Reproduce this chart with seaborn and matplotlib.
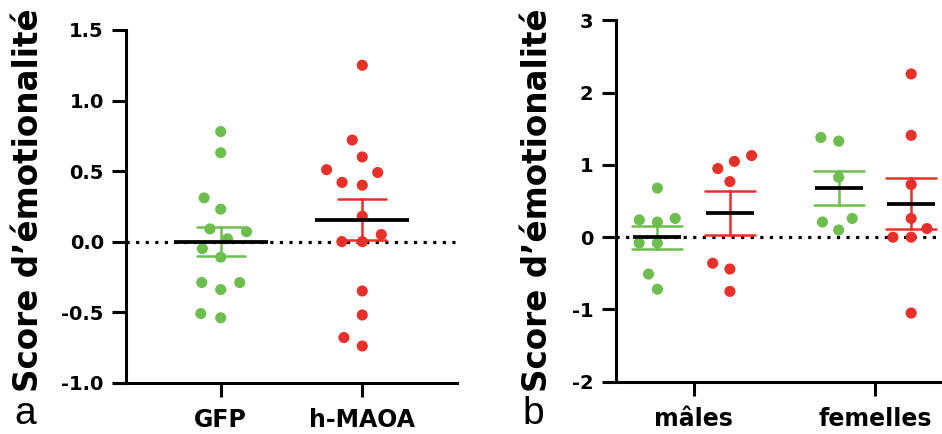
import numpy as np
import pandas as pd
import matplotlib
matplotlib.use("Agg")
import matplotlib.pyplot as plt
import seaborn as sns

# ---------------- data ----------------
groups = ["GFP", "h-MAOA"]
sexes = ["mâles", "femelles"]

# panel a : all animals
gfp_all = [0.78, 0.63, 0.31, 0.23, 0.09, 0.07, 0.02, -0.05, -0.11, -0.29, -0.29, -0.34, -0.51, -0.54]
maoa_all = [1.25, 0.72, 0.60, 0.51, 0.49, 0.42, 0.40, 0.18, 0.05, 0.0, 0.0, -0.35, -0.52, -0.68, -0.74]

# panel b : by sex
gfp_males = [0.68, 0.26, 0.24, 0.21, -0.08, -0.08, -0.51, -0.72]
maoa_males = [1.13, 1.05, 0.95, 0.77, -0.36, -0.44, -0.75]
gfp_females = [1.38, 1.33, 0.83, 0.26, 0.21, 0.10]
maoa_females = [2.26, 1.41, 0.73, 0.26, 0.12, 0.0, 0.0, -1.05]

yticks_a = [-1.0, -0.5, 0.0, 0.5, 1.0, 1.5]
ytick_labels_a = ["-1.0", "-0.5", "0.0", "0.5", "1.0", "1.5"]
yticks_b = [-2, -1, 0, 1, 2, 3]
ytick_labels_b = ["-2", "-1", "0", "1", "2", "3"]
ylabel = "Score d’émotionalité"

green = "#6DBE4E"
red = "#E8302A"

df_a = pd.DataFrame({
    "group": ["GFP"] * len(gfp_all) + ["h-MAOA"] * len(maoa_all),
    "score": gfp_all + maoa_all,
})
df_b = pd.DataFrame({
    "sex": (["mâles"] * (len(gfp_males) + len(maoa_males))
            + ["femelles"] * (len(gfp_females) + len(maoa_females))),
    "group": (["GFP"] * len(gfp_males) + ["h-MAOA"] * len(maoa_males)
              + ["GFP"] * len(gfp_females) + ["h-MAOA"] * len(maoa_females)),
    "score": gfp_males + maoa_males + gfp_females + maoa_females,
})

# ---------------- style ----------------
sns.set_theme(style="ticks")
plt.rcParams["font.family"] = ["DejaVu Sans"]
plt.rcParams["font.weight"] = "bold"
plt.rcParams["axes.unicode_minus"] = False
plt.rcParams["text.color"] = "black"
plt.rcParams["axes.labelcolor"] = "black"
plt.rcParams["xtick.color"] = "black"
plt.rcParams["ytick.color"] = "black"

fig = plt.figure(figsize=(9.42, 4.34), dpi=100)
axa = fig.add_axes([0.1338, 0.1182, 0.3513, 0.8127])
axb = fig.add_axes([0.6536, 0.1205, 0.3464, 0.8323])

pal = [green, red]

# ---------------- panel a ----------------
axa.axhline(0, color="black", lw=2.3, ls=(0, (1, 2)), zorder=1)
sns.swarmplot(data=df_a, x="group", y="score", hue="group", order=groups,
              hue_order=groups, palette=pal, size=8.0, linewidth=6,
              edgecolor="none", legend=False, ax=axa, zorder=2)
sns.pointplot(data=df_a, x="group", y="score", hue="group", order=groups,
              hue_order=groups, palette=pal, errorbar="se", capsize=0.34,
              markersize=0, linestyles="none",
              err_kws={"linewidth": 1.8, "zorder": 3}, legend=False, ax=axa)
sns.pointplot(data=df_a, x="group", y="score", order=groups, color="black",
              errorbar=None, markers="_", linestyles="none",
              markersize=67.7, markeredgewidth=2.7, zorder=4, ax=axa)
axa.set_xlim(-0.669, 1.669)
axa.set_ylim(-1.0, 1.5)
axa.set_yticks(yticks_a)
axa.set_yticklabels(ytick_labels_a)

# ---------------- panel b ----------------
axb.axhline(0, color="black", lw=2.3, ls=(0, (1, 2)), zorder=1)
sns.swarmplot(data=df_b, x="sex", y="score", hue="group", order=sexes,
              hue_order=groups, palette=pal, dodge=True, size=8.0,
              linewidth=4.5, edgecolor="none", legend=False, ax=axb, zorder=2)
sns.pointplot(data=df_b, x="sex", y="score", hue="group", order=sexes,
              hue_order=groups, palette=pal, dodge=0.4, errorbar="se",
              capsize=0.276, markersize=0, linestyles="none",
              err_kws={"linewidth": 1.8, "zorder": 3}, legend=False, ax=axb)
sns.pointplot(data=df_b, x="sex", y="score", hue="group", order=sexes,
              hue_order=groups, palette=["black", "black"], dodge=0.4,
              errorbar=None, markers="_", linestyles="none",
              markersize=34.6, markeredgewidth=2.7, zorder=4, legend=False,
              ax=axb)
axb.set_xlim(-0.43, 1.37)
axb.set_ylim(-2, 3)
axb.set_yticks(yticks_b)
axb.set_yticklabels(ytick_labels_b)

# ---------------- common styling ----------------
for ax, lx, ly in [(axa, -0.2946, 0.518), (axb, -0.241, 0.503)]:
    sns.despine(ax=ax)
    for side in ("left", "bottom"):
        ax.spines[side].set_linewidth(2.2)
        ax.spines[side].set_color("black")
    ax.tick_params(axis="both", width=2.2, length=10, color="black",
                   labelcolor="black")
    ax.tick_params(axis="y", labelsize=14, pad=6)
    ax.tick_params(axis="x", labelsize=17, pad=8)
    ax.set_xlabel("")
    ax.set_ylabel(ylabel, fontsize=23.5, fontweight="bold", va="center",
                  color="black")
    ax.yaxis.set_label_coords(lx, ly)
    ax.set_facecolor("white")

fig.text(14 / 942, 2 / 434, "a", fontsize=28, fontweight="normal",
         family=["Liberation Sans"], color="black", ha="left", va="bottom")
fig.text(522 / 942, 2 / 434, "b", fontsize=28, fontweight="normal",
         family=["Liberation Sans"], color="black", ha="left", va="bottom")

fig.savefig("out.png", dpi=100, facecolor="white")
